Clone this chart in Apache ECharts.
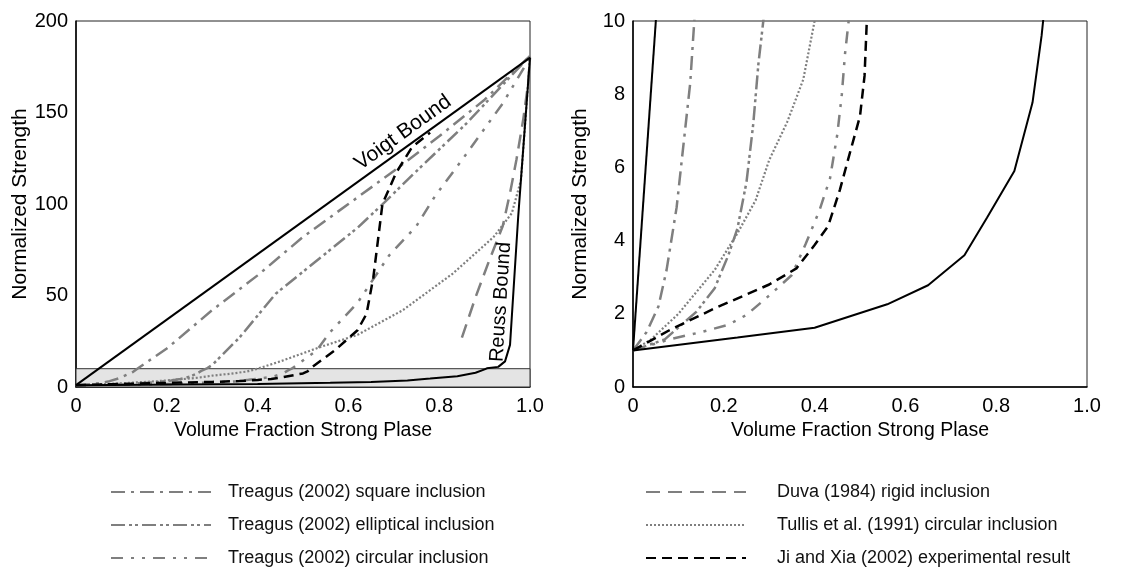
<!DOCTYPE html>
<html>
<head>
<meta charset="utf-8">
<script src="https://cdn.jsdelivr.net/npm/echarts@6/dist/echarts.min.js"></script>
<style>
  html, body { margin: 0; padding: 0; background: #fff; }
  #main { width: 1125px; height: 572px; }
</style>
</head>
<body>
<div id="main"></div>
<script>
// volume fraction of strong phase vs normalized strength
const voigt = [[0, 1], [1, 180]];
const reuss = [[0, 1], [0.23, 1.35], [0.4, 1.62], [0.56, 2.26], [0.65, 2.78], [0.73, 3.6], [0.78, 4.63],
  [0.84, 5.9], [0.88, 7.77], [0.9, 9.6], [0.905, 10.2], [0.93, 11], [0.945, 14], [0.956, 23], [0.974, 93], [1, 180]];
const square = [[0, 1], [0.03, 1.5], [0.056, 2.2], [0.074, 3.2], [0.096, 4.9], [0.111, 6.6], [0.126, 8.3],
  [0.135, 10], [0.2, 21], [0.3, 42], [0.4, 61], [0.5, 82], [0.6, 100], [0.7, 118], [0.8, 137], [0.9, 157], [1, 181]];
const elliptical = [[0, 1], [0.07, 1.3], [0.14, 2.06], [0.18, 2.7], [0.21, 3.6], [0.23, 4.33], [0.25, 5.6],
  [0.265, 7.2], [0.276, 8.8], [0.287, 10], [0.3, 12], [0.36, 27], [0.44, 51], [0.55, 73], [0.62, 87],
  [0.68, 101], [0.75, 118], [0.86, 144], [1, 181]];
const circular = [[0, 1], [0.08, 1.3], [0.15, 1.5], [0.21, 1.7], [0.25, 1.97], [0.3, 2.5], [0.35, 3.06],
  [0.38, 3.9], [0.41, 4.8], [0.434, 5.7], [0.45, 6.9], [0.46, 8], [0.467, 9.1], [0.475, 10], [0.53, 20],
  [0.56, 30], [0.62, 46], [0.69, 72], [0.75, 88], [0.79, 104], [0.85, 124], [0.94, 155], [1, 180]];
const duva = [[0.85, 27], [0.88, 49], [0.91, 69], [0.94, 88], [0.956, 106], [0.97, 124], [0.985, 146],
  [0.996, 166], [1, 180]];
const tullis = [[0, 1], [0.04, 1.3], [0.1, 2.0], [0.18, 3.2], [0.23, 4.2], [0.27, 5.1], [0.3, 6.2],
  [0.34, 7.25], [0.375, 8.4], [0.4, 10], [0.45, 14], [0.54, 22], [0.62, 28.5], [0.72, 42], [0.83, 62],
  [0.92, 82], [0.96, 95], [0.98, 113], [1, 180]];
const jiXia = [[0, 1], [0.08, 1.55], [0.18, 2.15], [0.3, 2.8], [0.36, 3.24], [0.4, 3.88], [0.43, 4.4],
  [0.456, 5.4], [0.48, 6.5], [0.5, 7.4], [0.51, 8.5], [0.515, 10], [0.57, 20], [0.62, 31], [0.64, 40],
  [0.655, 60], [0.665, 80], [0.675, 100], [0.705, 117], [0.74, 131], [0.78, 139]];

const bandRange = [0, 10];          // shaded strip in the left panel = range of right panel
const yMax = [200, 10];
const yStep = [50, 2];
const legendLeft = ['Treagus (2002) square inclusion', 'Treagus (2002) elliptical inclusion', 'Treagus (2002) circular inclusion'];
const legendRight = ['Duva (1984) rigid inclusion', 'Tullis et al. (1991) circular inclusion', 'Ji and Xia (2002) experimental result'];
const voigtLabelAt = [0.738, 133];
const reussLabelAt = [0.962, 46];

const FONT = 'Liberation Sans, Arial, sans-serif';
const GRAY = '#7f7f7f';

const curves = [
  { name: legendLeft[0], data: square, color: GRAY, width: 2.5, type: [14, 6, 3, 6], z: 3 },
  { name: legendLeft[1], data: elliptical, color: GRAY, width: 2.5, type: [14, 4, 3, 3, 3, 4], z: 3 },
  { name: legendLeft[2], data: circular, color: GRAY, width: 2.5, type: [12, 8, 3, 8, 3, 8], z: 3 },
  { name: legendRight[0], data: duva, color: GRAY, width: 2.5, type: [14, 8], z: 3 },
  { name: legendRight[1], data: tullis, color: GRAY, width: 2.2, type: [2, 2], z: 3 },
  { name: legendRight[2], data: jiXia, color: '#000', width: 2.5, type: [10, 6], z: 4 },
  { name: 'Voigt Bound', data: voigt, color: '#000', width: 2, type: 'solid', z: 5 },
  { name: 'Reuss Bound', data: reuss, color: '#000', width: 2, type: 'solid', z: 5 }
];

const chart = echarts.init(document.getElementById('main'));

const grids = [
  { left: 76, top: 21, width: 454, height: 366 },
  { left: 633, top: 21, width: 454, height: 366 }
].map(g => Object.assign(g, {
  show: true, borderColor: '#222', borderWidth: 1, backgroundColor: 'transparent', outerBoundsMode: 'none'
}));

const xAxes = [0, 1].map(i => ({
  type: 'value', gridIndex: i, min: 0, max: 1, interval: 0.2,
  name: 'Volume Fraction Strong Plase', nameLocation: 'middle', nameGap: 33,
  nameTextStyle: { fontFamily: FONT, fontSize: 19.5, color: '#000' },
  axisLine: { show: true, onZero: false, lineStyle: { color: '#000', width: 1.5 } },
  axisTick: { show: false },
  splitLine: { show: false },
  axisLabel: {
    fontFamily: FONT, fontSize: 20, color: '#000', margin: 9,
    formatter: v => (v === 0 ? '0' : v.toFixed(1))
  }
}));

const yAxes = [0, 1].map(i => ({
  type: 'value', gridIndex: i, min: 0, max: yMax[i], interval: yStep[i],
  name: 'Normalized Strength', nameLocation: 'middle', nameGap: 42,
  nameTextStyle: { fontFamily: FONT, fontSize: 21, color: '#000' },
  axisLine: { show: true, onZero: false, lineStyle: { color: '#000', width: 1.5 } },
  axisTick: { show: false },
  splitLine: { show: false },
  axisLabel: { fontFamily: FONT, fontSize: 20, color: '#000', margin: 8 }
}));

const series = [{
  type: 'line', xAxisIndex: 0, yAxisIndex: 0, data: [[0, 0]], symbol: 'none', silent: true, z: 1,
  lineStyle: { width: 0 },
  markArea: {
    silent: true,
    itemStyle: { color: '#e4e4e4', borderColor: '#333', borderWidth: 1 },
    data: [[{ coord: [0, bandRange[0]] }, { coord: [1, bandRange[1]] }]]
  }
}];
[0, 1].forEach(g => {
  curves.forEach(c => {
    series.push({
      type: 'line', name: c.name, data: c.data, xAxisIndex: g, yAxisIndex: g,
      symbol: 'none', showSymbol: false, clip: true, z: c.z, silent: true,
      lineStyle: { color: c.color, width: c.width, type: c.type, cap: 'butt' },
      itemStyle: { color: c.color }
    });
  });
});

const legendBase = {
  orient: 'vertical', top: 478, itemWidth: 100, itemHeight: 20, itemGap: 15,
  selectedMode: false,
  itemStyle: { opacity: 0, borderWidth: 0 },
  textStyle: { fontFamily: FONT, fontSize: 18, color: '#111' }
};

chart.setOption({
  animation: false,
  backgroundColor: '#fff',
  grid: grids,
  xAxis: xAxes,
  yAxis: yAxes,
  legend: [
    Object.assign({}, legendBase, { left: 105, data: legendLeft,
      textStyle: Object.assign({}, legendBase.textStyle, { padding: [0, 0, 0, 12] }) }),
    Object.assign({}, legendBase, { left: 640, data: legendRight,
      textStyle: Object.assign({}, legendBase.textStyle, { padding: [0, 0, 0, 26] }) })
  ],
  series: series
});

// rotated bound labels placed along their lines
const vp = chart.convertToPixel({ gridIndex: 0 }, voigtLabelAt);
const v0 = chart.convertToPixel({ gridIndex: 0 }, voigt[0]);
const v1 = chart.convertToPixel({ gridIndex: 0 }, voigt[1]);
const voigtAngle = Math.atan2(v0[1] - v1[1], v1[0] - v0[0]);
const rp = chart.convertToPixel({ gridIndex: 0 }, reussLabelAt);
const r0 = chart.convertToPixel({ gridIndex: 0 }, reuss[13]);
const r1 = chart.convertToPixel({ gridIndex: 0 }, reuss[14]);
const reussAngle = Math.atan2(r0[1] - r1[1], r1[0] - r0[0]);

chart.setOption({
  graphic: [
    {
      type: 'text', x: vp[0], y: vp[1], rotation: voigtAngle, silent: true, z: 10,
      style: { text: 'Voigt Bound', x: 0, y: -3, align: 'center', verticalAlign: 'bottom',
        fontFamily: FONT, fontSize: 21, fill: '#000' }
    },
    {
      type: 'text', x: rp[0], y: rp[1], rotation: reussAngle, silent: true, z: 10,
      style: { text: 'Reuss Bound', x: 0, y: -2, align: 'center', verticalAlign: 'bottom',
        fontFamily: FONT, fontSize: 20, fill: '#000' }
    }
  ]
});
</script>
</body>
</html>
